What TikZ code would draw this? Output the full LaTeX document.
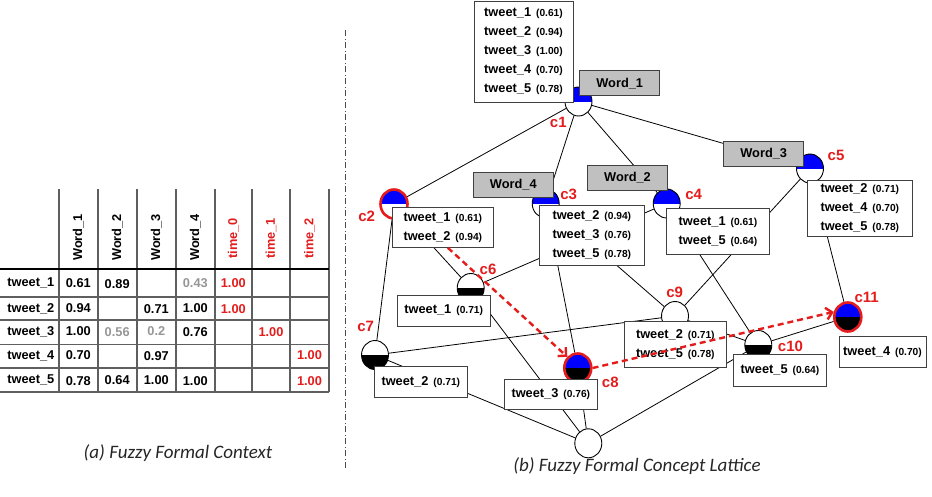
\documentclass[tikz,border=0pt]{standalone}
\usepackage{fontspec}
\setmainfont{Liberation Sans}
\newfontfamily\capfont{Carlito}
\usetikzlibrary{arrows.meta,shapes.geometric}
\definecolor{lblred}{RGB}{228,28,28}
\definecolor{boxgray}{RGB}{192,192,192}
\definecolor{rulegray}{RGB}{95,95,95}
\definecolor{valgray}{RGB}{150,150,150}
\pgfdeclarelayer{edges}
\pgfsetlayers{edges,main}
\newcommand{\twt}[2]{tweet\_#1\hskip 5pt{\fontsize{10.2}{19}\selectfont(#2)}}
\tikzset{
  concept/.style={ellipse, draw=black, line width=0.9pt, fill=white,
    minimum width=27pt, minimum height=29pt, inner sep=0pt},
  hot/.style={draw=lblred, line width=2.6pt},
  upblue/.style={path picture={\fill[blue] (path picture bounding box.north west)
    rectangle (path picture bounding box.east);}},
  lowblack/.style={path picture={\fill[black] (path picture bounding box.west)
    rectangle (path picture bounding box.south east);}},
  twohalf/.style={path picture={\fill[blue] (path picture bounding box.north west)
    rectangle (path picture bounding box.east);
    \fill[black] (path picture bounding box.west)
    rectangle (path picture bounding box.south east);}},
  extent/.style={draw=black!75, line width=0.9pt, fill=white, align=left,
    inner sep=0pt, font=\fontsize{12.8}{19}\selectfont\bfseries},
  wordbox/.style={draw=black!75, line width=0.9pt, fill=boxgray, inner sep=0pt,
    minimum width=80pt, minimum height=25pt, font=\fontsize{12.8}{15}\selectfont\bfseries},
  clabel/.style={text=lblred, inner sep=0pt, font=\fontsize{15}{16}\selectfont\bfseries},
  cell/.style={inner sep=0pt, font=\fontsize{12.8}{15}\selectfont\bfseries},
  colhead/.style={cell, rotate=90, anchor=west},
  caption/.style={text=black!85, font=\capfont\itshape\fontsize{19}{21}\selectfont},
  tblrule/.style={rulegray, line width=1.6pt},
  edge/.style={black, line width=0.8pt},
  flow/.style={draw=lblred, line width=2.4pt, dash pattern=on 6pt off 4pt,
    -{Straight Barb[length=6pt,width=12pt]}},
  divider/.style={black!70, line width=0.8pt, dash pattern=on 6pt off 2.5pt on 1pt off 2.5pt}
}
\begin{document}
\begin{tikzpicture}[x=1pt,y=-1pt]
		\useasboundingbox (0,0) rectangle (932,496);
		
		%%%%% context table %%%%%
		\draw[tblrule] (59,189) -- (59,391.7);
		\draw[tblrule] (97.7,189) -- (97.7,391.7);
		\draw[tblrule] (136.7,189) -- (136.7,391.7);
		\draw[tblrule] (176,189) -- (176,391.7);
		\draw[tblrule] (214.7,189) -- (214.7,391.7);
		\draw[tblrule] (252,189) -- (252,391.7);
		\draw[tblrule] (290,189) -- (290,391.7);
		\draw[tblrule] (329,189) -- (329,391.7);
		\draw[black, line width=1.4pt] (0,269) -- (329,269);
		\draw[tblrule] (0,296.7) -- (329,296.7);
		\draw[tblrule] (0,320) -- (329,320);
		\draw[tblrule] (0,344.3) -- (329,344.3);
		\draw[tblrule] (0,367.7) -- (329,367.7);
		\draw[tblrule] (0,391.7) -- (329,391.7);
		
		\node[colhead] (hw1) at (78.3,261) {Word\_1};
		\node[colhead] (hw2) at (117.2,261) {Word\_2};
		\node[colhead] (hw3) at (156.3,261) {Word\_3};
		\node[colhead] (hw4) at (195.3,261) {Word\_4};
		\node[colhead, text=lblred] (ht0) at (233.3,259) {time\_0};
		\node[colhead, text=lblred] (ht1) at (271,259) {time\_1};
		\node[colhead, text=lblred] (ht2) at (309.5,259) {time\_2};
		
		\node[cell] (rt1) at (30.8,283) {tweet\_1};
		\node[cell] (rt2) at (30.8,308.5) {tweet\_2};
		\node[cell] (rt3) at (30.8,332) {tweet\_3};
		\node[cell] (rt4) at (30.8,356) {tweet\_4};
		\node[cell] (rt5) at (30.8,380) {tweet\_5};
		
		\node[cell] (v11) at (78.3,283) {0.61};
		\node[cell] (v12) at (117.2,284) {0.89};
		\node[cell, text=valgray] (v14) at (195.3,283) {0.43};
		\node[cell, text=lblred] (v15) at (233.3,283.5) {1.00};
		
		\node[cell] (v21) at (78.3,308) {0.94};
		\node[cell] (v23) at (156.3,309.5) {0.71};
		\node[cell] (v24) at (195.3,308.5) {1.00};
		\node[cell, text=lblred] (v25) at (233.3,309) {1.00};
		
		\node[cell] (v31) at (78.3,331.5) {1.00};
		\node[cell, text=valgray] (v32) at (117.2,332.5) {0.56};
		\node[cell, text=valgray] (v33) at (156.3,331.5) {0.2};
		\node[cell] (v34) at (195.3,332) {0.76};
		\node[cell, text=lblred] (v36) at (271,332) {1.00};
		
		\node[cell] (v41) at (78.3,355.5) {0.70};
		\node[cell] (v43) at (156.3,356.5) {0.97};
		\node[cell, text=lblred] (v47) at (309.5,355.5) {1.00};
		
		\node[cell] (v51) at (78.3,381.5) {0.78};
		\node[cell] (v52) at (117.2,380) {0.64};
		\node[cell] (v53) at (156.3,380) {1.00};
		\node[cell] (v54) at (195.3,381.5) {1.00};
		\node[cell, text=lblred] (v57) at (309.5,381.5) {1.00};
		
		\node[caption] (capa) at (178,453) {(a) Fuzzy Formal Context};
		
		\draw[divider] (345,30) -- (345,470);
		
		%%%%% lattice %%%%%
		\node[concept, upblue] (c1) at (578.5,101.5) {};
		\node[concept, hot, upblue] (c2) at (394,204) {};
		\node[concept, upblue] (c3) at (545.7,203.5) {};
		\node[concept, upblue] (c4) at (666.7,203.5) {};
		\node[concept, upblue] (c5) at (810,168.5) {};
		\node[concept, lowblack] (c6) at (470.7,288) {};
		\node[concept, lowblack] (c7) at (375,355) {};
		\node[concept, hot, twohalf] (c8) at (577.8,368) {};
		\node[concept] (c9) at (675,316) {};
		\node[concept, lowblack] (c10) at (758.3,345) {};
		\node[concept, hot, twohalf] (c11) at (847.8,317) {};
		\node[concept] (bot) at (588.3,443.3) {};
		
		\begin{pgfonlayer}{edges}
		\draw[edge] (c1) -- (c2);
		\draw[edge] (c1) -- (c3);
		\draw[edge] (c1) -- (c4);
		\draw[edge] (c1) -- (c5);
		\draw[edge] (c2) -- (c6);
		\draw[edge] (c2) -- (c7);
		\draw[edge] (c3) -- (c8);
		\draw[edge] (c3) -- (c9);
		\draw[edge] (c4) -- (c6);
		\draw[edge] (c4) -- (c10);
		\draw[edge] (c5) -- (c9);
		\draw[edge] (c5) -- (c11);
		\draw[edge] (c6) -- (bot);
		\draw[edge] (c7) -- (c9);
		\draw[edge] (c7) -- (bot);
		\draw[edge] (c8) -- (bot);
		\draw[edge] (c9) -- (c10);
		\draw[edge] (c10) -- (c11);
		\draw[edge] (c10) -- (bot);
		\end{pgfonlayer}
		
		\node[extent, minimum width=99pt, minimum height=101pt] (ext1) at (523.5,51.5)
		  {\twt{1}{0.61}\\\twt{2}{0.94}\\\twt{3}{1.00}\\\twt{4}{0.70}\\\twt{5}{0.78}};
		\node[extent, minimum width=101pt, minimum height=40pt] (ext2) at (442.8,227.3)
		  {\twt{1}{0.61}\\\twt{2}{0.94}};
		\node[extent, minimum width=105pt, minimum height=60pt] (ext3) at (591.8,235)
		  {\twt{2}{0.94}\\\twt{3}{0.76}\\\twt{5}{0.78}};
		\node[extent, minimum width=102.6pt, minimum height=45.7pt] (ext4) at (718,231.2)
		  {\twt{1}{0.61}\\\twt{5}{0.64}};
		\node[extent, minimum width=105pt, minimum height=56.7pt] (ext5) at (859.8,208.3)
		  {\twt{2}{0.71}\\\twt{4}{0.70}\\\twt{5}{0.78}};
		\node[extent, minimum width=92.7pt, minimum height=31pt] (ext6) at (443.7,310.5) {\twt{1}{0.71}};
		\node[extent, minimum width=93.7pt, minimum height=30.6pt] (ext7) at (420.8,382) {\twt{2}{0.71}};
		\node[extent, minimum width=93pt, minimum height=30.3pt] (ext8) at (550.8,394.2) {\twt{3}{0.76}};
		\node[extent, minimum width=102.7pt, minimum height=45.6pt] (ext9) at (675.3,344.5)
		  {\twt{2}{0.71}\\\twt{5}{0.78}};
		\node[extent, minimum width=93.4pt, minimum height=31.7pt] (ext10) at (780,370.2) {\twt{5}{0.64}};
		\node[extent, minimum width=87pt, minimum height=31.3pt] (ext11) at (882.5,351.7) {\twt{4}{0.70}};
		
		\node[wordbox] (w1) at (619.7,83.3) {Word\_1};
		\node[wordbox] (w2) at (627.5,178) {Word\_2};
		\node[wordbox] (w3) at (763.7,153.7) {Word\_3};
		\node[wordbox] (w4) at (513.3,184.7) {Word\_4};
		
		\node[clabel] (lc1) at (558.3,122.5) {c1};
		\node[clabel] (lc2) at (366.7,216.7) {c2};
		\node[clabel] (lc3) at (568.7,194.2) {c3};
		\node[clabel] (lc4) at (693.7,194.2) {c4};
		\node[clabel] (lc5) at (836,155.5) {c5};
		\node[clabel] (lc6) at (488,269.5) {c6};
		\node[clabel] (lc7) at (365.7,326) {c7};
		\node[clabel] (lc8) at (610.3,382.5) {c8};
		\node[clabel] (lc9) at (674.7,292) {c9};
		\node[clabel] (lc10) at (790.5,346.3) {c10};
		\node[clabel] (lc11) at (866.7,297.5) {c11};
		
		\draw[flow] ([xshift=5pt]ext2.south) -- (c8.north west);
		\draw[flow] (c8.east) -- (c11.160);
		
		\node[caption] (capb) at (637,466) {(b) Fuzzy Formal Concept Lattice};
		
\end{tikzpicture}
\end{document}
